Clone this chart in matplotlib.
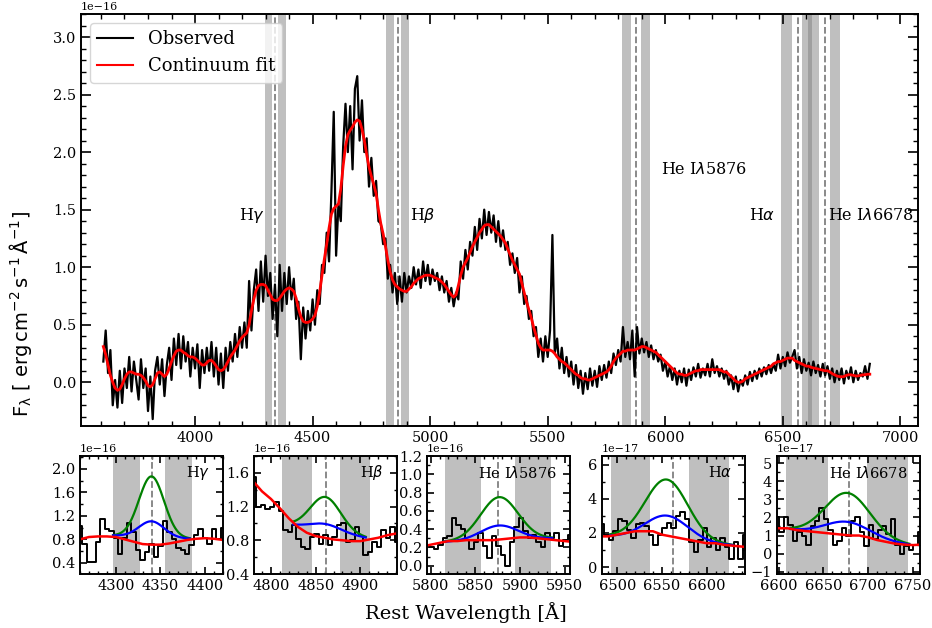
import numpy as np
import matplotlib
matplotlib.use("Agg")
import matplotlib.pyplot as plt
from matplotlib.ticker import MultipleLocator, AutoMinorLocator

plt.rcParams["font.family"] = "DejaVu Serif"
plt.rcParams["mathtext.fontset"] = "dejavusans"

# ---------------------------------------------------------------- spectrum
FLUX_UNIT = 1e-16           # main panel flux unit [erg cm^-2 s^-1 A^-1]
WAVE_START = 3610.0         # first pixel [A]
WAVE_STEP = 10.0            # pixel width [A]

observed_flux = [
    0.18, 0.45, 0.08, 0.28, -0.20, 0.02, -0.22, 0.10, -0.18, 0.12,
    -0.05, 0.22, -0.08, 0.18, 0.02, -0.15, 0.20, -0.05, 0.12, -0.25,
    0.05, -0.32, 0.10, 0.22, -0.02, 0.20, -0.12, 0.15, 0.30, 0.02,
    0.38, 0.15, 0.42, 0.12, 0.40, 0.18, 0.35, 0.05, 0.30, 0.12,
    0.33, -0.05, 0.28, 0.08, 0.30, 0.10, 0.35, 0.05, 0.30, -0.02,
    0.25, -0.05, 0.30, 0.10, 0.35, 0.18, 0.42, 0.22, 0.48, 0.30,
    0.52, 0.30, 0.88, 0.45, 0.80, 0.98, 0.62, 1.05, 0.70, 1.10,
    0.75, 0.95, 0.55, 0.85, 0.40, 1.02, 0.62, 0.95, 0.68, 1.00,
    0.72, 0.90, 0.55, 0.70, 0.20, 0.65, 0.38, 0.62, 0.45, 0.72,
    0.50, 0.80, 0.68, 1.02, 0.95, 1.30, 1.05, 1.65, 2.35, 1.10,
    1.55, 1.40, 2.05, 2.42, 2.00, 2.40, 1.85, 2.55, 2.66, 2.10,
    2.45, 2.00, 2.12, 1.70, 1.95, 1.62, 1.75, 1.40, 1.38, 1.20,
    1.25, 0.90, 1.02, 0.78, 0.95, 0.68, 0.92, 0.70, 0.95, 0.78,
    0.92, 0.82, 1.00, 0.85, 0.98, 0.82, 1.05, 0.88, 1.02, 0.85,
    0.98, 0.88, 0.95, 0.80, 0.92, 0.78, 0.88, 0.70, 0.82, 0.66,
    0.78, 0.72, 1.05, 0.90, 1.15, 0.98, 1.22, 1.10, 1.35, 1.15,
    1.42, 1.25, 1.50, 1.28, 1.48, 1.30, 1.45, 1.22, 1.40, 1.18,
    1.32, 1.15, 1.22, 1.02, 1.12, 0.95, 1.08, 0.78, 0.92, 0.68,
    0.75, 0.55, 0.62, 0.40, 0.48, 0.22, 0.38, 0.18, 0.40, 0.22,
    0.45, 1.28, 0.25, 0.38, 0.12, 0.30, 0.08, 0.22, 0.05, 0.18,
    -0.02, 0.15, -0.05, 0.10, -0.10, 0.08, -0.06, 0.12, -0.03, 0.10,
    -0.04, 0.14, 0.02, 0.15, 0.04, 0.18, 0.08, 0.25, 0.15, 0.28,
    0.18, 0.48, 0.22, 0.35, 0.20, 0.45, 0.05, 0.48, 0.25, 0.38,
    0.26, 0.35, 0.22, 0.32, 0.20, 0.28, 0.18, 0.24, 0.10, 0.18,
    0.05, 0.14, 0.02, 0.12, -0.02, 0.10, 0.00, 0.12, -0.03, 0.11,
    0.02, 0.13, 0.05, 0.16, 0.04, 0.12, 0.06, 0.16, 0.05, 0.20,
    0.08, 0.14, 0.05, 0.12, 0.03, 0.10, -0.02, 0.06, -0.06, 0.05,
    -0.08, 0.02, -0.03, 0.06, -0.02, 0.09, 0.01, 0.10, 0.03, 0.12,
    0.05, 0.13, 0.07, 0.15, 0.08, 0.16, 0.10, 0.24, 0.12, 0.22,
    0.14, 0.26, 0.17, 0.22, 0.28, 0.12, 0.22, 0.08, 0.20, 0.10,
    0.17, 0.06, 0.18, 0.08, 0.15, 0.05, 0.16, 0.06, 0.14, 0.03,
    0.12, 0.00, 0.10, 0.02, 0.12, -0.01, 0.10, 0.03, 0.13, 0.00,
    0.10, 0.02, 0.08, 0.05, 0.14, 0.03, 0.16,
]

continuum_fit = [
    0.31, 0.24, 0.15, 0.06, 0.00, -0.05, -0.07, -0.06, -0.02, 0.03,
    0.07, 0.09, 0.09, 0.08, 0.07, 0.07, 0.06, 0.04, 0.01, -0.03,
    -0.04, -0.02, 0.03, 0.08, 0.09, 0.07, 0.05, 0.07, 0.12, 0.18,
    0.23, 0.27, 0.28, 0.28, 0.26, 0.25, 0.23, 0.22, 0.22, 0.21,
    0.19, 0.17, 0.15, 0.15, 0.17, 0.19, 0.19, 0.17, 0.14, 0.11,
    0.10, 0.11, 0.14, 0.18, 0.22, 0.25, 0.28, 0.32, 0.36, 0.39,
    0.41, 0.43, 0.50, 0.62, 0.72, 0.80, 0.84, 0.85, 0.85, 0.84,
    0.80, 0.76, 0.72, 0.71, 0.71, 0.73, 0.76, 0.79, 0.81, 0.82,
    0.81, 0.79, 0.73, 0.64, 0.57, 0.53, 0.52, 0.52, 0.53, 0.55,
    0.58, 0.66, 0.78, 0.93, 1.07, 1.20, 1.34, 1.46, 1.51, 1.53,
    1.55, 1.68, 1.88, 2.05, 2.15, 2.19, 2.22, 2.26, 2.28, 2.27,
    2.20, 2.10, 1.98, 1.87, 1.79, 1.72, 1.64, 1.50, 1.38, 1.29,
    1.18, 1.06, 0.96, 0.89, 0.85, 0.83, 0.81, 0.80, 0.79, 0.79,
    0.81, 0.83, 0.86, 0.88, 0.90, 0.91, 0.92, 0.93, 0.93, 0.93,
    0.92, 0.91, 0.90, 0.89, 0.87, 0.85, 0.82, 0.79, 0.76, 0.74,
    0.76, 0.84, 0.93, 1.00, 1.04, 1.08, 1.13, 1.18, 1.22, 1.26,
    1.30, 1.33, 1.36, 1.37, 1.37, 1.35, 1.33, 1.31, 1.29, 1.27,
    1.24, 1.21, 1.16, 1.11, 1.06, 1.02, 0.98, 0.94, 0.86, 0.78,
    0.70, 0.63, 0.56, 0.48, 0.41, 0.34, 0.30, 0.28, 0.28, 0.28,
    0.28, 0.27, 0.25, 0.22, 0.20, 0.18, 0.17, 0.15, 0.13, 0.11,
    0.09, 0.07, 0.06, 0.04, 0.03, 0.03, 0.02, 0.02, 0.03, 0.04,
    0.05, 0.06, 0.07, 0.08, 0.09, 0.11, 0.14, 0.18, 0.21, 0.23,
    0.25, 0.27, 0.27, 0.28, 0.28, 0.28, 0.28, 0.29, 0.30, 0.31,
    0.31, 0.30, 0.29, 0.28, 0.27, 0.26, 0.24, 0.22, 0.20, 0.18,
    0.16, 0.14, 0.12, 0.10, 0.08, 0.07, 0.07, 0.06, 0.06, 0.07,
    0.08, 0.09, 0.10, 0.10, 0.11, 0.11, 0.11, 0.11, 0.11, 0.11,
    0.11, 0.11, 0.11, 0.10, 0.09, 0.09, 0.07, 0.05, 0.03, 0.01,
    0.00, 0.00, 0.01, 0.03, 0.04, 0.05, 0.06, 0.07, 0.08, 0.09,
    0.10, 0.11, 0.12, 0.13, 0.14, 0.16, 0.17, 0.18, 0.18, 0.19,
    0.20, 0.21, 0.21, 0.21, 0.19, 0.18, 0.17, 0.16, 0.15, 0.14,
    0.14, 0.13, 0.125, 0.12, 0.115, 0.11, 0.105, 0.10, 0.10, 0.09,
    0.075, 0.065, 0.055, 0.05, 0.047, 0.05, 0.06, 0.065, 0.065, 0.06,
    0.055, 0.055, 0.06, 0.065, 0.065, 0.07, 0.07,
]

# ---------------------------------------------------------------- lines
line_names = [r"H$\gamma$", r"H$\beta$", r"He I$\lambda$5876",
              r"H$\alpha$", r"He I$\lambda$6678"]
line_centers = [4340.5, 4861.3, 5875.6, 6562.8, 6678.2]
blue_windows = [(4297, 4327), (4812, 4846), (5816, 5856), (6493, 6537), (6608, 6655)]
red_windows = [(4355, 4385), (4877, 4911), (5895, 5935), (6580, 6625), (6699, 6745)]
label_wave = [4297, 4913, 5982, 6466, 6693]
label_flux = [1.45, 1.45, 1.85, 1.45, 1.45]
label_align = ["right", "left", "left", "right", "left"]

# ---------------------------------------------------------------- zoom panels
zoom_start = [4260, 4781, 5796, 6483, 6598]   # first 5 A bin of each panel
ZOOM_STEP = 5.0
ZOOM_HALF = 80.0
zoom_unit = [1e-16, 1e-16, 1e-16, 1e-17, 1e-17]
zoom_ylim = [(0.21, 2.22), (0.40, 1.80), (-0.09, 1.2001), (-0.40, 6.50), (-1.13, 5.40)]
zoom_ystep = [0.4, 0.4, 0.2, 2.0, 1.0]

zoom_flux = [
    [1.02, 0.72, 0.42, 0.42, 0.75, 1.15, 0.98, 0.95, 0.82, 0.55, 0.82,
     1.08, 0.92, 0.62, 0.45, 0.58, 0.72, 0.50, 0.68, 1.12, 0.92, 0.80,
     0.66, 0.62, 0.55, 0.70, 0.88, 0.98, 0.82, 0.72, 0.98, 0.80, 1.00],
    [1.55, 1.20, 1.22, 1.17, 1.20, 1.25, 1.15, 0.92, 0.90, 0.98, 0.82,
     0.72, 0.70, 0.84, 0.88, 0.76, 0.86, 0.74, 0.84, 0.98, 1.00, 0.78,
     0.80, 0.96, 0.85, 0.62, 0.66, 0.78, 0.72, 0.92, 0.83, 0.96, 0.78],
    [0.22, 0.20, 0.18, 0.23, 0.30, 0.32, 0.52, 0.45, 0.40, 0.28, 0.18,
     0.26, 0.36, 0.22, 0.08, 0.32, 0.22, 0.12, 0.00, 0.26, 0.42, 0.52,
     0.38, 0.30, 0.34, 0.26, 0.20, 0.36, 0.30, 0.36, 0.22, 0.28, 0.34],
    [2.5, 1.9, 1.6, 2.1, 2.8, 2.7, 2.2, 1.7, 2.5, 2.6, 2.4,
     1.9, 1.3, 1.9, 2.3, 2.6, 2.3, 3.0, 3.2, 2.8, 1.5, 0.9,
     1.6, 2.3, 1.2, 1.7, 1.0, 1.7, 1.2, 0.5, 1.5, 0.5, 1.9],
    [2.0, 1.2, 2.0, 1.6, 0.7, 1.2, 1.0, 0.5, 1.5, 1.8, 2.5,
     1.9, 1.3, 0.5, 0.7, 1.4, 1.0, 1.8, 2.0, 1.2, 0.4, 1.6,
     0.8, 1.3, 1.5, 1.1, 1.9, 0.5, 0.0, 0.4, 0.2, 0.5, 1.2],
]

# Gaussian line models on a linear local continuum (panel units)
model_range = [(4297, 4383), (4825, 4906), (5815, 5936), (6492, 6629), (6613, 6746)]
model_base = [(0.865, 0.81), (0.98, 0.83), (0.26, 0.30), (1.81, 1.28), (1.33, 0.49)]
model_center = [4340, 4861, 5877, 6555, 6677]
model_sigma = [14, 17, 21, 24, 25]
broad_amp = [1.035, 0.40, 0.47, 3.56, 2.43]
narrow_amp = [0.27, 0.08, 0.16, 1.45, 0.83]

# ---------------------------------------------------------------- figure
W, H = 932, 628
fig = plt.figure(figsize=(W / 100, H / 100), dpi=100)


def style_axes(a, major, minor, labelsize):
    a.tick_params(which="both", direction="in", top=True, right=True,
                  labelsize=labelsize)
    a.tick_params(which="major", length=major, width=1.2)
    a.tick_params(which="minor", length=minor, width=1.0)
    for s in a.spines.values():
        s.set_linewidth(1.4)
    a.yaxis.get_offset_text().set_fontsize(8)


wave = WAVE_START + WAVE_STEP * np.arange(len(observed_flux))
obs = np.array(observed_flux) * FLUX_UNIT
cont = np.array(continuum_fit) * FLUX_UNIT

ax = fig.add_axes([81 / W, 1 - 426 / H, 837 / W, 412 / H])
for c, bw, rw in zip(line_centers, blue_windows, red_windows):
    ax.axvspan(*bw, color="gray", alpha=0.5, lw=0)
    ax.axvspan(*rw, color="gray", alpha=0.5, lw=0)
    ax.axvline(c, color="gray", ls="--", lw=1.3)
ax.plot(wave, obs, color="black", lw=1.6, label="Observed")
ax.plot(wave, cont, color="red", lw=2.0, label="Continuum fit")
for name, lx, ly, ha in zip(line_names, label_wave, label_flux, label_align):
    ax.text(lx, ly * FLUX_UNIT, name, ha=ha, va="center", fontsize=11.5)

ax.set_xlim(3515, 7075)
ax.set_ylim(-0.38 * FLUX_UNIT, 3.2 * FLUX_UNIT)
ax.xaxis.set_major_locator(MultipleLocator(500))
ax.xaxis.set_minor_locator(MultipleLocator(100))
ax.yaxis.set_major_locator(MultipleLocator(0.5 * FLUX_UNIT))
ax.yaxis.set_minor_locator(MultipleLocator(0.1 * FLUX_UNIT))
style_axes(ax, 7, 3.5, 10.5)
leg = ax.legend(loc="upper left", fontsize=13, framealpha=0.8)
for h in leg.get_lines():
    h.set_linewidth(1.5)

lefts = [80, 254, 427, 602, 777]
for i, left in enumerate(lefts):
    zx = fig.add_axes([left / W, 1 - 574 / H, 143 / W, 118 / H])
    unit = zoom_unit[i]
    zx.axvspan(*blue_windows[i], color="gray", alpha=0.5, lw=0)
    zx.axvspan(*red_windows[i], color="gray", alpha=0.5, lw=0)
    zx.axvline(line_centers[i], color="gray", ls="--", lw=1.3)

    zw = zoom_start[i] + ZOOM_STEP * np.arange(len(zoom_flux[i]))
    zx.step(zw, np.array(zoom_flux[i]) * unit, where="mid", color="black", lw=1.4)

    lo, hi = model_range[i]
    mw = np.linspace(lo, hi, 200)
    b0, b1 = model_base[i]
    base = b0 + (b1 - b0) * (mw - lo) / (hi - lo)
    prof = np.exp(-0.5 * ((mw - model_center[i]) / model_sigma[i]) ** 2)
    zx.plot(mw, (base + broad_amp[i] * prof) * unit, color="green", lw=1.6)
    zx.plot(mw, (base + narrow_amp[i] * prof) * unit, color="blue", lw=1.6)

    zx.plot(wave, cont, color="red", lw=1.8)

    zx.text(0.91, 0.86, line_names[i], transform=zx.transAxes,
            ha="right", va="center", fontsize=10.5)

    c = round(line_centers[i])
    zx.set_xlim(c - ZOOM_HALF, c + ZOOM_HALF)
    zx.set_ylim(zoom_ylim[i][0] * unit, zoom_ylim[i][1] * unit)
    zx.xaxis.set_major_locator(MultipleLocator(50))
    zx.xaxis.set_minor_locator(MultipleLocator(10))
    zx.yaxis.set_major_locator(MultipleLocator(zoom_ystep[i] * unit))
    zx.yaxis.set_minor_locator(AutoMinorLocator(2))
    style_axes(zx, 5, 2.5, 10.5)

fig.text(0.5, 0.025, "Rest Wavelength [Å]", ha="center", va="center", fontsize=14)
fig.text(0.022, 0.5,
         r"$\mathrm{F_{\lambda}\ [\ erg\,cm^{-2}\,s^{-1}\,\AA^{-1}]}$",
         rotation=90, ha="center", va="center", fontsize=14)

fig.savefig("out.png", dpi=100)
